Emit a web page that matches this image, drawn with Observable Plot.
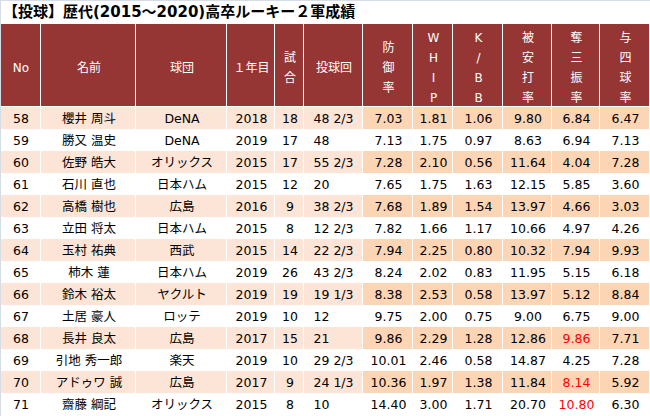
<!DOCTYPE html>
<html><head><meta charset="utf-8">
<script src="https://cdn.jsdelivr.net/npm/d3@7"></script>
<script src="https://cdn.jsdelivr.net/npm/@observablehq/plot@0.6"></script>
<style>
html,body{margin:0;padding:0;background:#fff;}
#wrap{position:relative;width:650px;height:416px;overflow:hidden;}
#title{height:24px;box-sizing:border-box;border-top:1px solid #D5DCE6;padding-left:3px;font:bold 15px "DejaVu Sans","Noto Sans CJK JP",sans-serif;line-height:22px;color:#000;white-space:nowrap;}
#edge{position:absolute;left:0;top:0;width:1px;height:416px;background:#D5DCE6;}
#chart svg{display:block;}
</style></head><body>
<div id="wrap"><div id="title">【投球】歴代(2015～2020)高卒ルーキー２軍成績</div><div id="chart"></div><div id="edge"></div></div>
<script>
const columns = ["No","名前","球団","１年目","試\n合","投球回","防\n御\n率","W\nH\nI\nP","K\n/\nB\nB","被\n安\n打\n率","奪\n三\n振\n率","与\n四\n球\n率"];
const columnWidths = [41,95,91,48,29,59,50,40,50,49,48,50];
const nos = [58,59,60,61,62,63,64,65,66,67,68,69,70,71];
const names = ["櫻井 周斗","勝又 温史","佐野 皓大","石川 直也","高橋 樹也","立田 将太","玉村 祐典","柿木 蓮","鈴木 裕太","土居 豪人","長井 良太","引地 秀一郎","アドゥワ 誠","齋藤 綱記"];
const teams = ["DeNA","DeNA","オリックス","日本ハム","広島","日本ハム","西武","日本ハム","ヤクルト","ロッテ","広島","楽天","広島","オリックス"];
const firstYears = [2018,2019,2015,2015,2016,2015,2015,2019,2019,2019,2017,2019,2017,2015];
const games = [18,17,17,12,9,8,14,26,19,10,15,10,9,8];
const innings = ["48 2/3","48","55 2/3","20","38 2/3","12 2/3","22 2/3","43 2/3","19 1/3","12","21","29 2/3","24 1/3","10"];
const era = [7.03,7.13,7.28,7.65,7.68,7.82,7.94,8.24,8.38,9.75,9.86,10.01,10.36,14.40];
const whip = [1.81,1.75,2.10,1.75,1.89,1.66,2.25,2.02,2.53,2.00,2.29,2.46,1.97,3.00];
const kbb = [1.06,0.97,0.56,1.63,1.54,1.17,0.80,0.83,0.58,0.75,1.28,0.58,1.38,1.71];
const h9 = [9.80,8.63,11.64,12.15,13.97,10.66,10.32,11.95,13.97,9.00,12.86,14.87,11.84,20.70];
const k9 = [6.84,6.94,4.04,5.85,4.66,4.97,7.94,5.15,5.12,6.75,9.86,4.25,8.14,10.80];
const bb9 = [6.47,7.13,7.28,3.60,3.03,4.26,9.93,6.18,8.84,9.00,7.71,7.28,5.92,6.30];

const W = 650, headerH = 83, rowH = 22, H = 392;
const headColor = "#963634", lightFill = "#FCE4D6", darkFill = "#FCD5B4", red = "#FF0000";

// column extents from widths
const edges = d3.cumsum([0, ...columnWidths]);
const cols = columns.map((label, j) => ({label, j, x1: edges[j], x2: edges[j + 1], xc: (edges[j] + edges[j + 1]) / 2}));

const f2 = v => v.toFixed(2);
const cells = [];
nos.forEach((no, i) => {
  const vals = [String(no), names[i], teams[i], String(firstYears[i]), String(games[i]), innings[i],
    f2(era[i]), f2(whip[i]), f2(kbb[i]), f2(h9[i]), f2(k9[i]), f2(bb9[i])];
  vals.forEach((text, j) => {
    const c = cols[j];
    cells.push({
      i, j, text,
      x1: c.x1, x2: c.x2, xc: c.xc,
      y1: headerH + i * rowH, y2: headerH + (i + 1) * rowH,
      yc: headerH + (i + 0.5) * rowH,
      fill: i % 2 === 0 ? (j < 6 ? lightFill : darkFill) : "#FFFFFF",
      color: (j === 10 && k9[i] >= 8) ? red : "#000000"
    });
  });
});

const font = '"DejaVu Sans","Noto Sans CJK JP",sans-serif';

const chart = Plot.plot({
  width: W, height: H,
  margin: 0,
  x: {type: "linear", domain: [0, W], range: [0, W], axis: null},
  y: {type: "linear", domain: [0, H], range: [0, H], axis: null},
  color: {type: "identity"},
  style: {background: "#fff"},
  marks: [
    Plot.rect(cols, {x1: "x1", x2: "x2", y1: () => 0, y2: () => headerH, fill: headColor, insetRight: 1, insetBottom: 1}),
    Plot.rect(cells, {x1: "x1", x2: "x2", y1: "y1", y2: "y2", fill: "fill", insetRight: 1}),
    Plot.text(cols, {x: "xc", y: () => headerH / 2, text: "label", fill: "#fff", fontSize: 12, lineHeight: 1.67, fontFamily: font}),
    Plot.text(cells.filter(d => d.j !== 5), {x: "xc", y: "yc", text: "text", fill: "color", fontSize: 12.5, fontFamily: font}),
    Plot.text(cells.filter(d => d.j === 5), {x: "x1", y: "yc", text: "text", fill: "color", fontSize: 12.5, fontFamily: font, textAnchor: "start", dx: 9})
  ]
});
document.getElementById("chart").appendChild(chart);
</script>
</body></html>
